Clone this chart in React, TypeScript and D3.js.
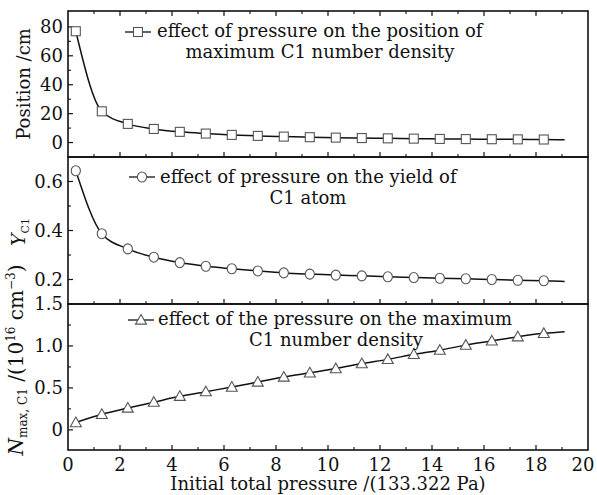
import React from "react";
import * as d3 from "d3";

const pressure = [0.3, 1.3, 2.3, 3.3, 4.3, 5.3, 6.3, 7.3, 8.3, 9.3, 10.3, 11.3, 12.3, 13.3, 14.3, 15.3, 16.3, 17.3, 18.3];
const positionCm = [77, 21.6, 12.9, 9.4, 7.4, 6.2, 5.3, 4.6, 4.1, 3.7, 3.4, 3.1, 2.9, 2.7, 2.5, 2.4, 2.3, 2.2, 2.1];
const yieldC1 = [0.644, 0.387, 0.325, 0.291, 0.269, 0.254, 0.244, 0.235, 0.227, 0.222, 0.218, 0.215, 0.211, 0.208, 0.205, 0.203, 0.2, 0.197, 0.195];
const densityC1 = [0.087, 0.185, 0.26, 0.33, 0.4, 0.455, 0.51, 0.57, 0.63, 0.68, 0.73, 0.79, 0.84, 0.9, 0.95, 1.01, 1.06, 1.11, 1.15];
// end of the fitted curves
const fitEndX = 19.1;
const fitEnd = { position: 1.9, yield: 0.192, density: 1.17 };

const xTicks = [0, 2, 4, 6, 8, 10, 12, 14, 16, 18, 20];
const xMinor = d3.range(1, 20, 2);

const legend1 = ["effect of pressure on the position of", "maximum C1 number density"];
const legend2 = ["effect of pressure on the yield of", "C1 atom"];
const legend3 = ["effect of the pressure on the maximum", "C1 number density"];

const FONT = "'DejaVu Serif', serif";
const X0 = 68, X1 = 588;
const x = d3.scaleLinear().domain([0, 20]).range([X0, X1]);

type Panel = {
  top: number; bottom: number; domain: [number, number];
  major: number[]; minor: number[]; labels: string[];
  values: number[]; end: number; marker: "square" | "circle" | "triangle";
  topTicks: boolean; legend: string[];
  leg: { sx: number; sy: number; tx: number; b1: number; mx: number; b2: number };
};

const panels: Panel[] = [
  {
    top: 11, bottom: 157, domain: [-10, 91], major: [0, 20, 40, 60, 80], minor: [10, 30, 50, 70],
    labels: ["0", "20", "40", "60", "80"], values: positionCm, end: fitEnd.position, marker: "square",
    topTicks: true, legend: legend1, leg: { sx: 138, sy: 32, tx: 157, b1: 37, mx: 320, b2: 58 },
  },
  {
    top: 157, bottom: 304, domain: [0.1, 0.7], major: [0.2, 0.4, 0.6], minor: [0.3, 0.5],
    labels: ["0.2", "0.4", "0.6"], values: yieldC1, end: fitEnd.yield, marker: "circle",
    topTicks: false, legend: legend2, leg: { sx: 142, sy: 177, tx: 160, b1: 182.5, mx: 308, b2: 204 },
  },
  {
    top: 304, bottom: 450, domain: [-0.24, 1.5], major: [0, 0.5, 1.0, 1.5], minor: [0.25, 0.75, 1.25],
    labels: ["0", "0.5", "1.0", "1.5"], values: densityC1, end: fitEnd.density, marker: "triangle",
    topTicks: false, legend: legend3, leg: { sx: 141, sy: 320, tx: 158, b1: 325, mx: 336, b2: 346 },
  },
];

function Marker({ kind, cx, cy }: { kind: string; cx: number; cy: number }) {
  const st = { fill: "#fff", stroke: "#555", strokeWidth: 1.1 };
  if (kind === "square") return <rect x={cx - 4.5} y={cy - 4.5} width={9} height={9} {...st} />;
  if (kind === "circle") return <ellipse cx={cx} cy={cy} rx={4.6} ry={5} {...st} />;
  const s = 5.5;
  return <path d={`M${cx},${cy - s}L${cx + s},${cy + s * 0.75}L${cx - s},${cy + s * 0.75}Z`} {...st} />;
}

export default function App() {
  return (
    <svg width={597} height={495} style={{ position: "absolute", left: 0, top: 0, background: "#fff" }} fontFamily={FONT}>
      <rect width={597} height={495} fill="#fff" />
      {panels.map((p, i) => {
        const y = d3.scaleLinear().domain(p.domain).range([p.bottom, p.top]);
        const pts = pressure.map((px, k) => [px, p.values[k]] as [number, number]);
        const fit = [...pts, [fitEndX, p.end] as [number, number]];
        const line = d3.line<[number, number]>().x(d => x(d[0])).y(d => y(d[1])).curve(d3.curveMonotoneX);
        return (
          <g key={i}>
            <rect x={X0} y={p.top} width={X1 - X0} height={p.bottom - p.top} fill="none" stroke="#111" strokeWidth={1.6} />
            {xTicks.slice(1, -1).map(t => (
              <line key={"b" + t} x1={x(t)} x2={x(t)} y1={p.bottom} y2={p.bottom - 5} stroke="#111" strokeWidth={1.2} />
            ))}
            {xMinor.map(t => (
              <line key={"bm" + t} x1={x(t)} x2={x(t)} y1={p.bottom} y2={p.bottom - 3} stroke="#111" strokeWidth={1.1} />
            ))}
            {p.topTicks && xTicks.slice(1, -1).map(t => (
              <line key={"t" + t} x1={x(t)} x2={x(t)} y1={p.top} y2={p.top + 5} stroke="#111" strokeWidth={1.2} />
            ))}
            {p.topTicks && xMinor.map(t => (
              <line key={"tm" + t} x1={x(t)} x2={x(t)} y1={p.top} y2={p.top + 3} stroke="#111" strokeWidth={1.1} />
            ))}
            {p.major.map(t => (
              <line key={"y" + t} x1={X0} x2={X0 + 5} y1={y(t)} y2={y(t)} stroke="#111" strokeWidth={1.2} />
            ))}
            {p.minor.map(t => (
              <line key={"ym" + t} x1={X0} x2={X0 + 3} y1={y(t)} y2={y(t)} stroke="#111" strokeWidth={1.1} />
            ))}
            {p.major.map((t, k) => (
              <text key={"yl" + t} x={63} y={y(t)} dy="0.36em" textAnchor="end" fontSize={18} fill="#111">{p.labels[k]}</text>
            ))}
            <path d={line(fit) || ""} fill="none" stroke="#111" strokeWidth={1.5} />
            {pts.map((d, k) => <Marker key={k} kind={p.marker} cx={x(d[0])} cy={y(d[1])} />)}
            {/* legend */}
            <line x1={p.leg.sx - 13} x2={p.leg.sx + 13} y1={p.leg.sy} y2={p.leg.sy} stroke="#111" strokeWidth={1.3} />
            <Marker kind={p.marker} cx={p.leg.sx} cy={p.leg.sy} />
            <text x={p.leg.tx} y={p.leg.b1} fontSize={18} fill="#111">{p.legend[0]}</text>
            <text x={p.leg.mx} y={p.leg.b2} fontSize={18} fill="#111" textAnchor="middle">{p.legend[1]}</text>
          </g>
        );
      })}
      {xTicks.map((t, k) => (
        <text key={"xl" + t} x={x(t)} dx={k === xTicks.length - 1 ? -5 : 0} y={471} textAnchor="middle" fontSize={18} fill="#111">{t}</text>
      ))}
      <text x={328} y={490} textAnchor="middle" fontSize={18} fill="#111">Initial total pressure /(133.322 Pa)</text>
      <text transform="translate(30,84) rotate(-90)" textAnchor="middle" fontSize={18} fill="#111">Position /cm</text>
      <text transform="translate(25,232) rotate(-90)" textAnchor="middle" fontSize={19} fill="#111">
        <tspan fontStyle="italic">Y</tspan>
        <tspan fontSize={11} dy={4}>C1</tspan>
      </text>
      <text transform="translate(23,360) rotate(-90)" textAnchor="middle" fontSize={20} fill="#111">
        <tspan fontStyle="italic">N</tspan>
        <tspan fontSize={12} dy={4}>max, C1</tspan>
        <tspan dy={-4}> /(10</tspan>
        <tspan fontSize={12} dy={-8}>16</tspan>
        <tspan dy={8}> cm</tspan>
        <tspan fontSize={12} dy={-8}>−3</tspan>
        <tspan dy={8}>)</tspan>
      </text>
    </svg>
  );
}
